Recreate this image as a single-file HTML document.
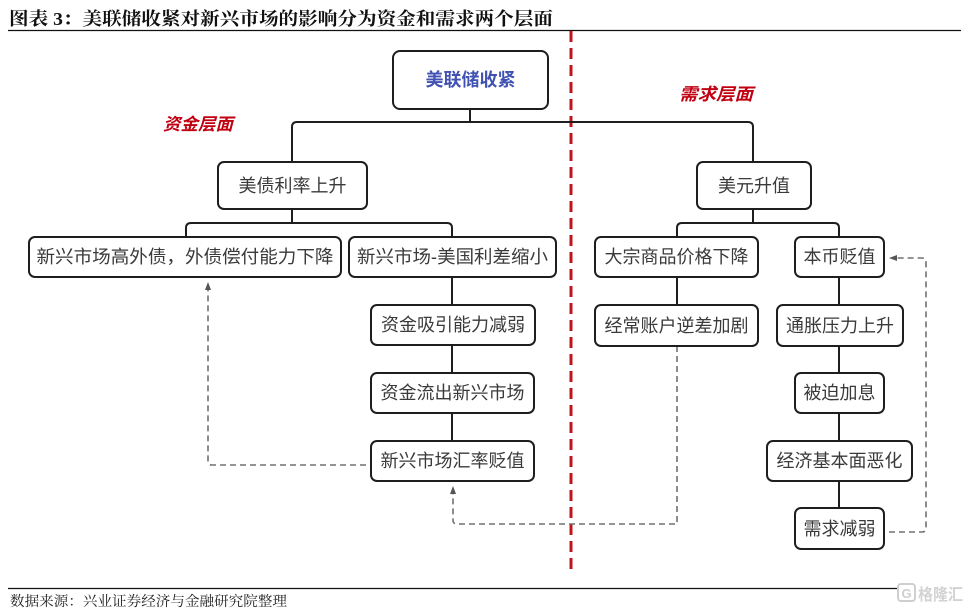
<!DOCTYPE html>
<html>
<head>
<meta charset="utf-8">
<style>
  html,body{margin:0;padding:0;background:#fff;}
  svg{display:block;}
  .box{fill:#fff;stroke:#1e1e1e;stroke-width:2;}
  .ln{fill:none;stroke:#1e1e1e;stroke-width:2;}
  .ds{fill:none;stroke:#707070;stroke-width:1.6;stroke-dasharray:6 4;}
  .t{font-family:"Liberation Sans","Noto Sans CJK SC",sans-serif;font-size:18px;fill:#3a3a3a;text-anchor:middle;}
  .red{font-family:"Liberation Sans","Noto Sans CJK SC",sans-serif;font-size:17px;font-weight:bold;font-style:italic;fill:#c00010;}
</style>
</head>
<body>
<svg width="973" height="612" viewBox="0 0 973 612" xmlns="http://www.w3.org/2000/svg">
  <!-- Title -->
  <text x="9" y="25" font-family="'Liberation Serif','Noto Serif CJK SC',serif" font-size="18" font-weight="bold" fill="#111" textLength="544" lengthAdjust="spacingAndGlyphs">图表 3：美联储收紧对新兴市场的影响分为资金和需求两个层面</text>
  <line x1="8" y1="30.5" x2="961" y2="30.5" stroke="#111" stroke-width="1.2"/>

  <!-- Red dashed divider -->
  <line x1="571" y1="31" x2="571" y2="572" stroke="#c0141c" stroke-width="3" stroke-dasharray="11 6"/>

  <!-- Section labels -->
  <text class="red" x="163" y="130" textLength="70" lengthAdjust="spacingAndGlyphs">资金层面</text>
  <text class="red" x="679" y="100" textLength="74" lengthAdjust="spacingAndGlyphs">需求层面</text>

  <!-- Top box -->
  <rect class="box" x="393" y="51" width="155" height="58" rx="7"/>
  <text x="470.5" y="86" font-family="'Liberation Sans','Noto Sans CJK SC',sans-serif" font-size="18" font-weight="bold" fill="#4152b3" text-anchor="middle">美联储收紧</text>

  <!-- Top connectors -->
  <line class="ln" x1="470" y1="109" x2="470" y2="122"/>
  <path class="ln" d="M292,162 V127 Q292,122 297,122 H748 Q753,122 753,127 V162"/>

  <!-- Left: 美债利率上升 -->
  <rect class="box" x="218" y="162" width="149" height="47" rx="6"/>
  <text class="t" x="292.5" y="192">美债利率上升</text>
  <line class="ln" x1="292" y1="209" x2="292" y2="223"/>
  <path class="ln" d="M186,237 V228 Q186,223 191,223 H447 Q452,223 452,228 V237"/>

  <rect class="box" x="29" y="237" width="312" height="40" rx="6"/>
  <text class="t" x="185" y="263" textLength="297" lengthAdjust="spacingAndGlyphs">新兴市场高外债，外债偿付能力下降</text>

  <rect class="box" x="349" y="237" width="207" height="40" rx="6"/>
  <text class="t" x="452.5" y="263" textLength="191" lengthAdjust="spacingAndGlyphs">新兴市场-美国利差缩小</text>

  <line class="ln" x1="452" y1="277" x2="452" y2="305"/>
  <rect class="box" x="371" y="305" width="164" height="40" rx="6"/>
  <text class="t" x="453" y="331">资金吸引能力减弱</text>

  <line class="ln" x1="452" y1="345" x2="452" y2="373"/>
  <rect class="box" x="371" y="373" width="163" height="40" rx="6"/>
  <text class="t" x="452.5" y="399">资金流出新兴市场</text>

  <line class="ln" x1="452" y1="413" x2="452" y2="441"/>
  <rect class="box" x="371" y="441" width="163" height="40" rx="6"/>
  <text class="t" x="452.5" y="467">新兴市场汇率贬值</text>

  <!-- Left dashed feedback -->
  <path class="ds" d="M366,465 H212 Q208,465 208,461 V290"/>
  <polygon points="208,282 205,290 211,290" fill="#555"/>

  <!-- Cross dashed: 经常账户 -> 汇率贬值 -->
  <path class="ds" d="M677,346 V524 H457 Q453,524 453,520 V494"/>
  <polygon points="453,486 450,494 456,494" fill="#555"/>

  <!-- Right: 美元升值 -->
  <rect class="box" x="697" y="162" width="114" height="47" rx="6"/>
  <text class="t" x="754" y="192">美元升值</text>
  <line class="ln" x1="753" y1="209" x2="753" y2="223"/>
  <path class="ln" d="M677,237 V228 Q677,223 682,223 H834 Q839,223 839,228 V237"/>

  <rect class="box" x="595" y="237" width="163" height="40" rx="6"/>
  <text class="t" x="676.5" y="263">大宗商品价格下降</text>

  <rect class="box" x="795" y="237" width="89" height="40" rx="6"/>
  <text class="t" x="839.5" y="263">本币贬值</text>

  <line class="ln" x1="677" y1="277" x2="677" y2="305"/>
  <rect class="box" x="595" y="305" width="163" height="41" rx="6"/>
  <text class="t" x="676.5" y="332">经常账户逆差加剧</text>

  <line class="ln" x1="839" y1="277" x2="839" y2="305"/>
  <rect class="box" x="777" y="305" width="126" height="41" rx="6"/>
  <text class="t" x="840" y="332">通胀压力上升</text>

  <line class="ln" x1="839" y1="346" x2="839" y2="373"/>
  <rect class="box" x="795" y="373" width="89" height="40" rx="6"/>
  <text class="t" x="839.5" y="399">被迫加息</text>

  <line class="ln" x1="839" y1="413" x2="839" y2="441"/>
  <rect class="box" x="767" y="441" width="145" height="40" rx="6"/>
  <text class="t" x="839.5" y="467">经济基本面恶化</text>

  <line class="ln" x1="839" y1="481" x2="839" y2="508"/>
  <rect class="box" x="795" y="508" width="89" height="41" rx="6"/>
  <text class="t" x="839.5" y="535">需求减弱</text>

  <!-- Right dashed feedback -->
  <path class="ds" d="M889,532 H922 Q926,532 926,528 V262 Q926,258 922,258 H897"/>
  <polygon points="889,258 897,255 897,261" fill="#555"/>

  <!-- Bottom rule & source -->
  <line x1="8" y1="588.5" x2="898" y2="588.5" stroke="#111" stroke-width="1.2"/>
  <text x="10" y="606" font-family="'Liberation Serif','Noto Serif CJK SC',serif" font-size="14" fill="#222" textLength="277" lengthAdjust="spacingAndGlyphs">数据来源：兴业证券经济与金融研究院整理</text>

  <!-- Watermark -->
  <rect x="898" y="584" width="17" height="17" rx="3" fill="none" stroke="#cfcfcf" stroke-width="2"/>
  <text x="906.5" y="598" font-family="'Liberation Sans',sans-serif" font-size="13" font-weight="bold" fill="#cfcfcf" text-anchor="middle">G</text>
  <text x="918" y="600" font-family="'Liberation Sans','Noto Sans CJK SC',sans-serif" font-size="16" font-weight="bold" fill="#d2d2d2" textLength="45" lengthAdjust="spacingAndGlyphs">格隆汇</text>
</svg>
</body>
</html>
